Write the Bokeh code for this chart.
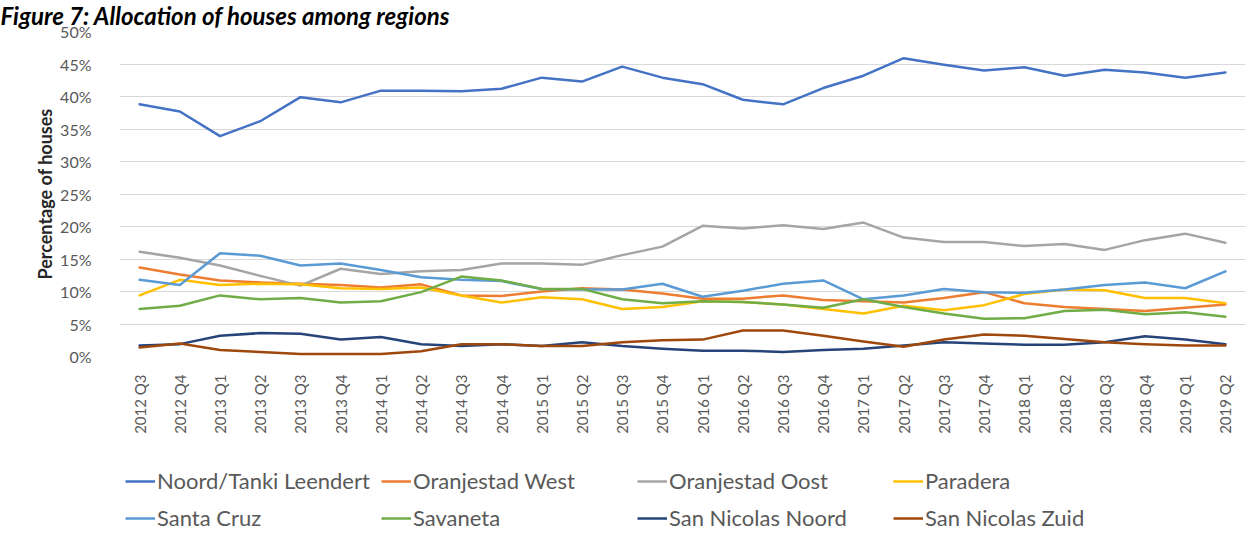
from bokeh.plotting import figure
from bokeh.models import FactorRange, Range1d, Legend, LegendItem, FixedTicker, PrintfTickFormatter
from bokeh.layouts import column
from bokeh.embed import file_html
from bokeh.resources import INLINE
import math

quarters = ["2012 Q3", "2012 Q4",
            "2013 Q1", "2013 Q2", "2013 Q3", "2013 Q4",
            "2014 Q1", "2014 Q2", "2014 Q3", "2014 Q4",
            "2015 Q1", "2015 Q2", "2015 Q3", "2015 Q4",
            "2016 Q1", "2016 Q2", "2016 Q3", "2016 Q4",
            "2017 Q1", "2017 Q2", "2017 Q3", "2017 Q4",
            "2018 Q1", "2018 Q2", "2018 Q3", "2018 Q4",
            "2019 Q1", "2019 Q2"]

noord = [38.8, 37.7, 33.9, 36.2, 39.9, 39.1, 40.9, 40.9, 40.8, 41.2, 42.9, 42.3, 44.6, 42.9,
         41.9, 39.5, 38.8, 41.3, 43.2, 45.9, 44.9, 44.0, 44.5, 43.2, 44.1, 43.7, 42.9, 43.7]
oranjestad_west = [13.7, 12.6, 11.7, 11.4, 11.2, 11.0, 10.6, 11.1, 9.4, 9.3, 10.0, 10.5, 10.3, 9.7,
                   8.9, 8.9, 9.4, 8.7, 8.5, 8.3, 9.0, 9.9, 8.2, 7.6, 7.3, 7.0, 7.5, 8.0]
oranjestad_oost = [16.1, 15.2, 14.0, 12.4, 10.9, 13.5, 12.7, 13.1, 13.3, 14.3, 14.3, 14.1, 15.6, 16.9,
                   20.1, 19.7, 20.2, 19.6, 20.6, 18.3, 17.6, 17.6, 17.0, 17.3, 16.4, 17.9, 18.9, 17.5]
paradera = [9.4, 11.8, 11.0, 11.2, 11.1, 10.5, 10.4, 10.6, 9.4, 8.3, 9.1, 8.8, 7.3, 7.6,
            8.5, 8.4, 8.0, 7.3, 6.6, 7.8, 7.1, 7.9, 9.6, 10.3, 10.2, 9.0, 9.0, 8.2]
santa_cruz = [11.8, 11.0, 15.9, 15.5, 14.0, 14.3, 13.3, 12.2, 11.8, 11.6, 10.4, 10.3, 10.3, 11.2,
              9.2, 10.1, 11.2, 11.7, 8.8, 9.4, 10.4, 9.9, 9.8, 10.3, 11.0, 11.4, 10.5, 13.1]
savaneta = [7.3, 7.8, 9.4, 8.8, 9.0, 8.3, 8.5, 9.9, 12.3, 11.7, 10.4, 10.4, 8.8, 8.2,
            8.5, 8.4, 8.0, 7.5, 8.8, 7.6, 6.6, 5.8, 5.9, 7.0, 7.2, 6.5, 6.8, 6.1]
san_nicolas_noord = [1.7, 1.9, 3.2, 3.6, 3.5, 2.6, 3.0, 1.9, 1.6, 1.9, 1.6, 2.2, 1.6, 1.2,
                     0.9, 0.9, 0.7, 1.0, 1.2, 1.7, 2.2, 2.0, 1.8, 1.8, 2.2, 3.1, 2.6, 1.9]
san_nicolas_zuid = [1.4, 2.0, 1.0, 0.7, 0.4, 0.4, 0.4, 0.8, 1.9, 1.9, 1.6, 1.6, 2.2, 2.5,
                    2.6, 4.0, 4.0, 3.2, 2.3, 1.5, 2.6, 3.4, 3.2, 2.7, 2.2, 1.9, 1.7, 1.7]

series_names = ["Noord/Tanki Leendert", "Oranjestad West", "Oranjestad Oost", "Paradera",
                "Santa Cruz", "Savaneta", "San Nicolas Noord", "San Nicolas Zuid"]
series_values = [noord, oranjestad_west, oranjestad_oost, paradera,
                 santa_cruz, savaneta, san_nicolas_noord, san_nicolas_zuid]
series_colors = ["#4472C4", "#ED7D31", "#A5A5A5", "#FFC000",
                 "#5B9BD5", "#70AD47", "#264478", "#9E480E"]

y_ticks = [0, 5, 10, 15, 20, 25, 30, 35, 40, 45, 50]

FONT = "Lato"
TXT = "#595959"
LW = 2.5

x_range = FactorRange(*quarters)

# ---------------- main chart ----------------
p = figure(x_range=x_range, y_range=Range1d(0, 50),
           width=1251, height=466, output_backend="svg", toolbar_location=None,
           min_border_left=119, min_border_right=6, min_border_top=30, min_border_bottom=110)
p.outline_line_color = None
p.background_fill_color = "white"
p.border_fill_color = "white"

p.title.text = "Figure 7: Allocation of houses among regions"
p.title.text_font = FONT
p.title.text_font_size = "24px"
p.title.text_font_style = "bold italic"
p.title.text_color = "black"
p.title.standoff = 0
p.title.offset = -119
p.title.align = "left"
p.title.vertical_align = "top"

for name, vals, col in zip(series_names, series_values, series_colors):
    p.line(x=quarters, y=vals, line_color=col, line_width=LW, line_join="round", line_cap="round")

p.yaxis.ticker = FixedTicker(ticks=y_ticks)
p.yaxis.formatter = PrintfTickFormatter(format="%d%%")
p.yaxis.axis_line_color = None
p.yaxis.major_tick_line_color = None
p.yaxis.minor_tick_line_color = None
p.yaxis.major_label_standoff = 22
p.yaxis.major_label_text_font = FONT
p.yaxis.major_label_text_font_size = "16px"
p.yaxis.major_label_text_color = TXT
p.yaxis.axis_label = "Percentage of houses"
p.yaxis.axis_label_text_font = FONT
p.yaxis.axis_label_text_font_size = "18px"
p.yaxis.axis_label_text_font_style = "bold"
p.yaxis.axis_label_text_color = "#262626"
p.yaxis.axis_label_standoff = 1

p.xaxis.axis_line_color = None
p.xaxis.major_tick_line_color = None
p.xaxis.minor_tick_line_color = None
p.xaxis.major_label_orientation = math.pi / 2
p.xaxis.major_label_standoff = 12
p.xaxis.major_label_text_font = FONT
p.xaxis.major_label_text_font_size = "15px"
p.xaxis.major_label_text_color = TXT

p.xgrid.grid_line_color = None
p.ygrid.grid_line_color = "#D9D9D9"
p.ygrid.grid_line_width = 1

# ---------------- legend strip (same series, drawn out of view) ----------------
q = figure(x_range=x_range, y_range=Range1d(200, 300),
           width=1251, height=71, output_backend="svg", toolbar_location=None,
           x_axis_type=None, y_axis_type=None,
           min_border_left=0, min_border_right=0, min_border_top=0, min_border_bottom=0)
q.outline_line_color = None
q.grid.visible = False
q.background_fill_color = "white"
q.border_fill_color = "white"

items = []
for name, vals, col in zip(series_names, series_values, series_colors):
    r = q.line(x=quarters, y=vals, line_color=col, line_width=LW)
    items.append(LegendItem(label=name, renderers=[r]))

legend = Legend(items=items, location=(6, 6), orientation="horizontal", ncols=4,
                label_text_font=FONT, label_text_font_size="22px", label_text_color=TXT,
                glyph_width=30, glyph_height=24, label_standoff=2, label_width=214,
                label_height=24, spacing=10, padding=0, margin=0,
                border_line_color=None, background_fill_alpha=0)
q.add_layout(legend, "center")

layout = column(p, q, spacing=0)
open("out.html", "w").write(file_html(layout, INLINE))
